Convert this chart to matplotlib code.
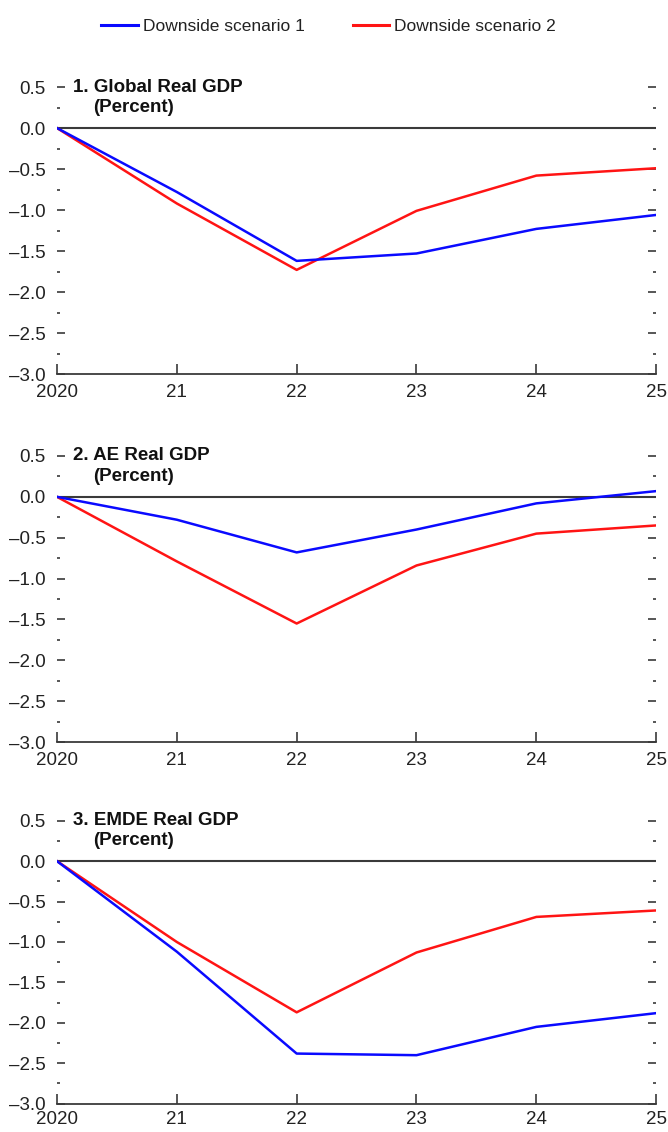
import matplotlib
matplotlib.use('Agg')
import matplotlib.pyplot as plt
from matplotlib.ticker import MultipleLocator, FixedLocator

plt.rcParams['font.family'] = ['Liberation Sans', 'DejaVu Sans']
plt.rcParams['axes.unicode_minus'] = False

# ---- data ----
years = [2020, 2021, 2022, 2023, 2024, 2025]
year_labels = ['2020', '21', '22', '23', '24', '25']

global_s1 = [0.0, -0.78, -1.62, -1.53, -1.23, -1.06]
global_s2 = [0.0, -0.92, -1.73, -1.01, -0.58, -0.49]

ae_s1 = [0.0, -0.28, -0.68, -0.40, -0.08, 0.07]
ae_s2 = [0.0, -0.79, -1.55, -0.84, -0.45, -0.35]

emde_s1 = [0.0, -1.12, -2.38, -2.40, -2.05, -1.88]
emde_s2 = [0.0, -1.00, -1.87, -1.13, -0.69, -0.61]

titles = ['1. Global Real GDP', '2. AE Real GDP', '3. EMDE Real GDP']
series_names = ['Downside scenario 1', 'Downside scenario 2']

yticks = [-3.0, -2.5, -2.0, -1.5, -1.0, -0.5, 0.0, 0.5]
ytick_labels = ['\u20133.0', '\u20132.5', '\u20132.0', '\u20131.5', '\u20131.0', '\u20130.5', '0.0', '0.5']

BLUE = '#0a0aff'
RED = '#ff1414'
AXC = '#3a3a3a'
TXT = '#222222'
FS = 13.5

fig = plt.figure(figsize=(6.68, 11.32), dpi=100)

# axes boxes in figure fraction (left, bottom, width, height)
boxes = [
    (0.0853, 0.6696, 0.897, 0.2535),
    (0.0853, 0.3445, 0.897, 0.2527),
    (0.0853, 0.0250, 0.897, 0.2500),
]
xpads = [7.5, 7.5, 5]
panels = [(global_s1, global_s2), (ae_s1, ae_s2), (emde_s1, emde_s2)]

for box, (s1, s2), title, xpad in zip(boxes, panels, titles, xpads):
    ax = fig.add_axes(box)
    ax.axhline(0, color=AXC, lw=1.5, zorder=1)
    ax.plot(years, s1, color=BLUE, lw=1.8, zorder=3)
    ax.plot(years, s2, color=RED, lw=1.8, zorder=2)

    ax.set_xlim(2020, 2025)
    ax.set_ylim(-3.0, 0.5)

    for s in ['top', 'left', 'right']:
        ax.spines[s].set_visible(False)
    ax.spines['bottom'].set_color(AXC)
    ax.spines['bottom'].set_linewidth(1.3)

    # x axis: ticks point up from the baseline
    ax.set_xticks(years)
    ax.set_xticklabels(year_labels, fontsize=FS, color=TXT)
    ax.tick_params(axis='x', direction='in', length=7, width=1.2, color=AXC, pad=xpad)

    # y axis: dashes for majors, dots for minors, both sides
    ax.yaxis.set_major_locator(FixedLocator(yticks))
    ax.set_yticklabels(ytick_labels, fontsize=FS, color=TXT)
    ax.yaxis.set_minor_locator(MultipleLocator(0.25))
    ax.tick_params(axis='y', which='major', direction='in', left=True, right=True,
                   length=6, width=1.2, color=AXC, pad=8)
    ax.tick_params(axis='y', which='minor', direction='in', left=True, right=True,
                   length=2.5, width=1.2, color=AXC)

    # panel title
    ax.text(2020.13, 0.5, title, fontsize=FS, fontweight='bold',
            ha='left', va='center', color='#111111')
    ax.text(2020.3, 0.25, '(Percent)', fontsize=FS, fontweight='bold',
            ha='left', va='center', color='#111111')

# legend on top
handles = [plt.Line2D([], [], color=BLUE, lw=2.2), plt.Line2D([], [], color=RED, lw=2.2)]
fig.legend(handles, series_names, loc='center', bbox_to_anchor=(0.492, 0.977),
           ncol=2, frameon=False, fontsize=12.5, handlelength=2.1, handletextpad=0.3,
           columnspacing=2.75, labelcolor=TXT)

fig.savefig('out.png', dpi=100, facecolor='white')
